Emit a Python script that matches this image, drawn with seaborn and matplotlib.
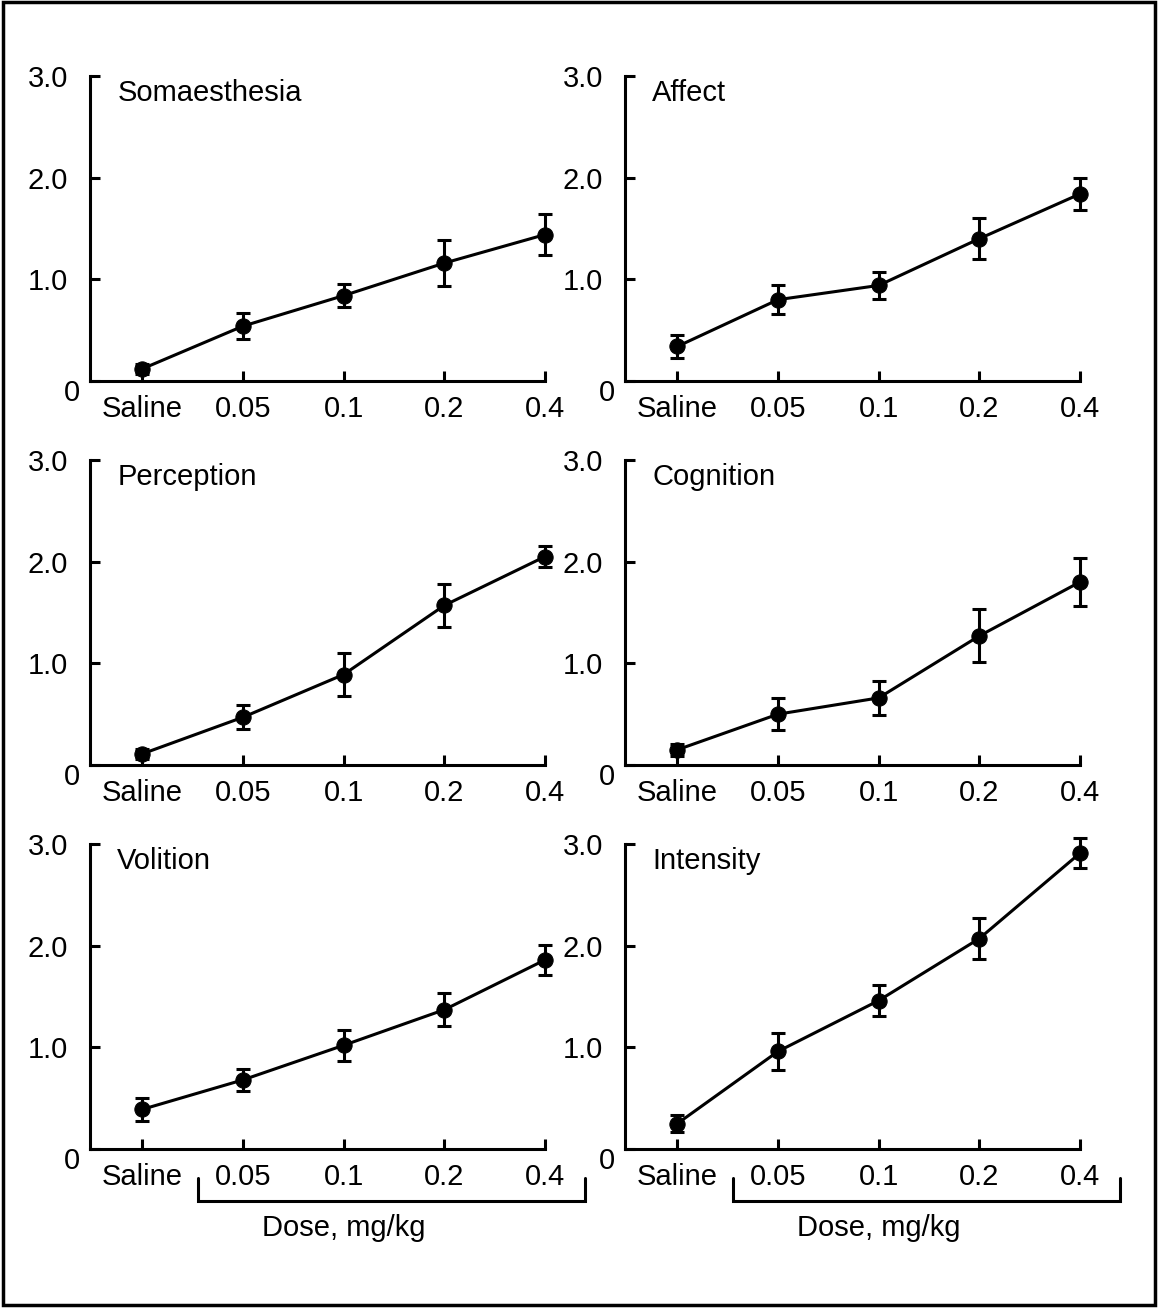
import pandas as pd
import seaborn as sns
import matplotlib.pyplot as plt
import matplotlib.transforms as mtransforms
from matplotlib.patches import Rectangle

doses = ['Saline', '0.05', '0.1', '0.2', '0.4']
panels = ['Somaesthesia', 'Affect', 'Perception', 'Cognition', 'Volition', 'Intensity']

somaesthesia = [0.12, 0.54, 0.84, 1.16, 1.44]
somaesthesia_err = [0.05, 0.13, 0.11, 0.23, 0.20]
affect = [0.34, 0.80, 0.94, 1.40, 1.84]
affect_err = [0.11, 0.14, 0.13, 0.20, 0.16]
perception = [0.11, 0.47, 0.89, 1.57, 2.05]
perception_err = [0.05, 0.12, 0.21, 0.21, 0.10]
cognition = [0.15, 0.50, 0.66, 1.27, 1.80]
cognition_err = [0.06, 0.16, 0.17, 0.26, 0.24]
volition = [0.39, 0.68, 1.02, 1.37, 1.86]
volition_err = [0.11, 0.11, 0.15, 0.16, 0.15]
intensity = [0.25, 0.96, 1.46, 2.07, 2.91]
intensity_err = [0.08, 0.18, 0.15, 0.20, 0.15]

means = [somaesthesia, affect, perception, cognition, volition, intensity]
errs = [somaesthesia_err, affect_err, perception_err, cognition_err, volition_err, intensity_err]

sns.set_style('ticks')
plt.rcParams['font.family'] = ['Liberation Sans Narrow', 'Liberation Sans', 'DejaVu Sans']
plt.rcParams['text.color'] = 'black'
plt.rcParams['xtick.color'] = 'black'
plt.rcParams['ytick.color'] = 'black'
plt.rcParams['axes.edgecolor'] = 'black'

W, H = 1158, 1313
fig = plt.figure(figsize=(W / 100, H / 100), dpi=100)

lefts = [90, 625]
zeros = [381, 765, 1149]
ax_w, ax_h = 455, 305

lw = 2.2
for i, name in enumerate(panels):
    row, col = divmod(i, 2)
    x0 = lefts[col] / W
    y0 = 1 - zeros[row] / H
    ax = fig.add_axes([x0, y0, ax_w / W, ax_h / H])

    df = pd.DataFrame({'dose': range(len(doses)), 'score': means[i], 'sem': errs[i]})
    ax.errorbar(df['dose'], df['score'], yerr=df['sem'], fmt='none', ecolor='black',
                elinewidth=lw, capsize=5, capthick=lw, clip_on=False, zorder=3)
    sns.lineplot(data=df, x='dose', y='score', ax=ax, color='black', marker='o',
                 markersize=11, markeredgecolor='black', linewidth=lw, clip_on=False, zorder=4)

    ax.set_xlim(-0.52, 4)
    ax.set_ylim(0, 3)
    ax.set_xticks(range(len(doses)))
    ax.set_xticklabels(doses)
    ax.set_yticks([0, 1, 2, 3])
    ax.set_yticklabels(['0', '1.0', '2.0', '3.0'])
    ax.set_xlabel('')
    ax.set_ylabel('')
    sns.despine(ax=ax)
    for s in ['left', 'bottom']:
        ax.spines[s].set_linewidth(lw)
    ax.tick_params(axis='both', direction='in', length=7, width=lw, labelsize=21,
                   color='black', labelcolor='black')
    ax.tick_params(axis='y', pad=16)
    ax.tick_params(axis='x', pad=10)

    zero_lbl = ax.get_yticklabels()[0]
    zero_lbl.set_transform(zero_lbl.get_transform() +
                           mtransforms.ScaledTranslation(0.12, -0.09, fig.dpi_scale_trans))

    ax.text(0.06, 0.945, name, transform=ax.transAxes, fontsize=21, va='center', ha='left')

    if row == 2:
        ax.plot([0.55, 0.55, 4.4, 4.4], [-0.29, -0.51, -0.51, -0.29], color='black',
                lw=lw, clip_on=False, solid_joinstyle='miter')
        ax.text(2.0, -0.78, 'Dose, mg/kg', fontsize=21, ha='center', va='center')

fig.patches.append(Rectangle((3 / W, 1 - 1305 / H), 1152 / W, 1303 / H, transform=fig.transFigure,
                             fill=False, edgecolor='black', linewidth=2.5))

fig.savefig('out.png', dpi=100)
